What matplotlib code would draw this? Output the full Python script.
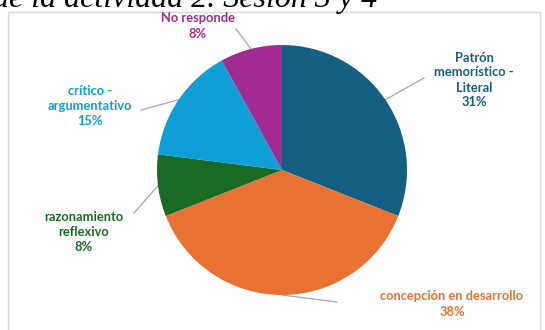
import numpy as np
import matplotlib.pyplot as plt
from matplotlib.patches import Rectangle

# datos del grafico
categorias = ["Patrón\nmemorístico -\nLiteral", "concepción en desarrollo",
              "razonamiento\nreflexivo", "crítico -\nargumentativo", "No responde"]
porcentajes = [31, 38, 8, 15, 8]
colores = ["#156082", "#E97132", "#196B24", "#0F9ED5", "#A02B93"]

# posiciones de las etiquetas (pixeles desde arriba) y fin de la linea guia
pos_etiquetas = [(474, 80), (452, 304), (84, 232), (90, 106), (198, 26)]
fin_lineas = [(424, 78), (337, 302), (134, 213), (141, 110), (236, 29)]

W, H = 545, 330
fig = plt.figure(figsize=(W / 100, H / 100), dpi=100)
ax = fig.add_axes([0, 0, 1, 1])

# marco del grafico
ax.add_patch(Rectangle((8, -10), 532, H - 12 + 10, fill=False,
                       edgecolor="#D9D9D9", lw=1))

cx, cy, r = 282, H - 170, 125
wedges, _ = ax.pie(porcentajes, colors=colores, startangle=90, counterclock=False,
                   center=(cx, cy), radius=r, frame=True)
ax.set_xlim(0, W)
ax.set_ylim(0, H)
ax.set_aspect("equal")
ax.axis("off")

for w, cat, p, col, (lx, ly), (ex, ey) in zip(wedges, categorias, porcentajes,
                                              colores, pos_etiquetas, fin_lineas):
    ang = np.deg2rad((w.theta1 + w.theta2) / 2)
    px, py = cx + r * np.cos(ang), cy + r * np.sin(ang)
    ax.plot([px, ex], [py, H - ey], color="#A6A6A6", lw=0.9, zorder=0.5)
    ax.text(lx, H - ly, f"{cat}\n{p}%", color=col, fontsize=9.3, fontweight="bold",
            family="Lato", ha="center", va="center", linespacing=1.3)

fig.text(-0.012, 1 - 7 / H, "de la actividad 2. Sesión 3 y 4", fontsize=23,
         family="Liberation Serif", style="italic", va="baseline", ha="left")

fig.savefig("out.png", dpi=100)
